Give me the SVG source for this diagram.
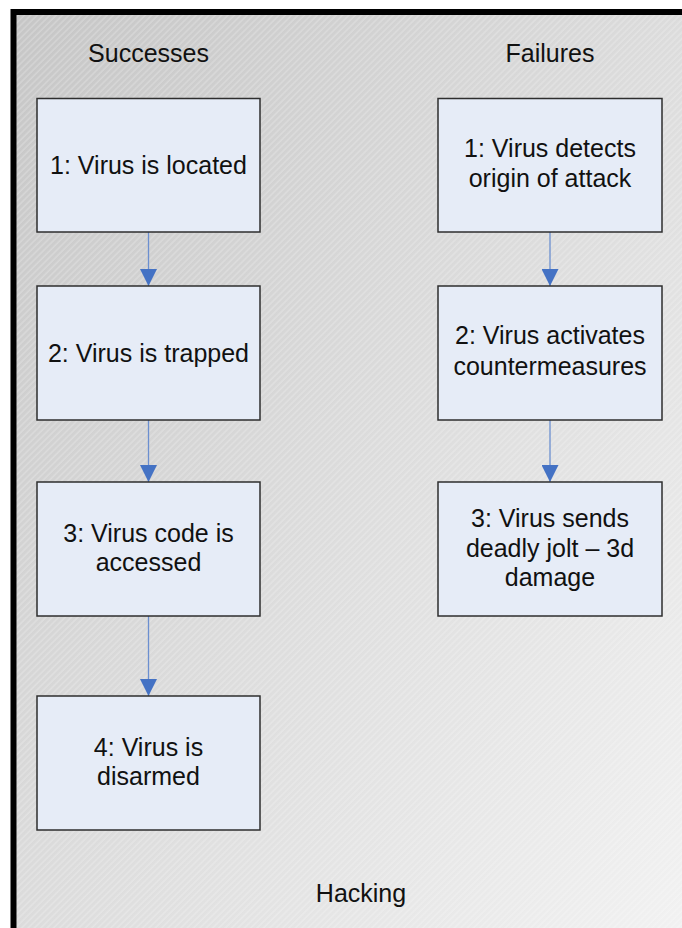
<svg xmlns="http://www.w3.org/2000/svg" width="682" height="928" viewBox="0 0 682 928">
  <defs>
    <linearGradient id="bg" x1="0" y1="0" x2="1" y2="1">
      <stop offset="0" stop-color="#c6c6c6"/>
      <stop offset="1" stop-color="#f2f2f2"/>
    </linearGradient>
    <pattern id="hatch" width="4.5" height="4.5" patternUnits="userSpaceOnUse" patternTransform="rotate(45)">
      <line x1="1" y1="0" x2="1" y2="4.5" stroke="#ffffff" stroke-opacity="0.28" stroke-width="1.2"/>
    </pattern>
    <marker id="arrow" markerWidth="17" markerHeight="17" refX="17" refY="8.5" orient="auto" markerUnits="userSpaceOnUse">
      <path d="M0,0 L17,8.5 L0,17 Z" fill="#4472c4"/>
    </marker>
    <style>
      .box { fill: #e6ecf7; stroke: #2e2e2e; stroke-width: 1.5; }
      .t { font-family: "Liberation Sans", Arial, sans-serif; font-size: 25px; fill: #111111; text-anchor: middle; }
      .conn { stroke: #6b8fd0; stroke-width: 1.3; fill: none; }
    </style>
  </defs>

  <rect x="0" y="0" width="682" height="928" fill="#ffffff"/>
  <rect x="13" y="12" width="680" height="930" fill="url(#bg)"/>
  <rect x="13" y="12" width="680" height="930" fill="url(#hatch)"/>
  <rect x="13.5" y="12" width="680" height="930" fill="none" stroke="#000000" stroke-width="6"/>

  <text class="t" x="148.5" y="62">Successes</text>
  <text class="t" x="550" y="62">Failures</text>
  <text class="t" x="361" y="902">Hacking</text>

  <g id="connectors">
    <line class="conn" x1="148.5" y1="232" x2="148.5" y2="286" marker-end="url(#arrow)"/>
    <line class="conn" x1="148.5" y1="420" x2="148.5" y2="482" marker-end="url(#arrow)"/>
    <line class="conn" x1="148.5" y1="616" x2="148.5" y2="696" marker-end="url(#arrow)"/>
    <line class="conn" x1="550" y1="232" x2="550" y2="286" marker-end="url(#arrow)"/>
    <line class="conn" x1="550" y1="420" x2="550" y2="482" marker-end="url(#arrow)"/>
  </g>

  <g id="s1">
    <rect class="box" x="37" y="98.5" width="223" height="133.5"/>
    <text class="t" x="148.5" y="174">1: Virus is located</text>
  </g>
  <g id="s2">
    <rect class="box" x="37" y="286" width="223" height="134"/>
    <text class="t" x="148.5" y="362">2: Virus is trapped</text>
  </g>
  <g id="s3">
    <rect class="box" x="37" y="482" width="223" height="134"/>
    <text class="t" x="148.5" y="542">3: Virus code is</text>
    <text class="t" x="148.5" y="571">accessed</text>
  </g>
  <g id="s4">
    <rect class="box" x="37" y="696" width="223" height="134"/>
    <text class="t" x="148.5" y="756">4: Virus is</text>
    <text class="t" x="148.5" y="785">disarmed</text>
  </g>

  <g id="f1">
    <rect class="box" x="438" y="98.5" width="224" height="133.5"/>
    <text class="t" x="550" y="157">1: Virus detects</text>
    <text class="t" x="550" y="187">origin of attack</text>
  </g>
  <g id="f2">
    <rect class="box" x="438" y="286" width="224" height="134"/>
    <text class="t" x="550" y="344">2: Virus activates</text>
    <text class="t" x="550" y="375">countermeasures</text>
  </g>
  <g id="f3">
    <rect class="box" x="438" y="482" width="224" height="134"/>
    <text class="t" x="550" y="527">3: Virus sends</text>
    <text class="t" x="550" y="557">deadly jolt – 3d</text>
    <text class="t" x="550" y="586">damage</text>
  </g>
</svg>
